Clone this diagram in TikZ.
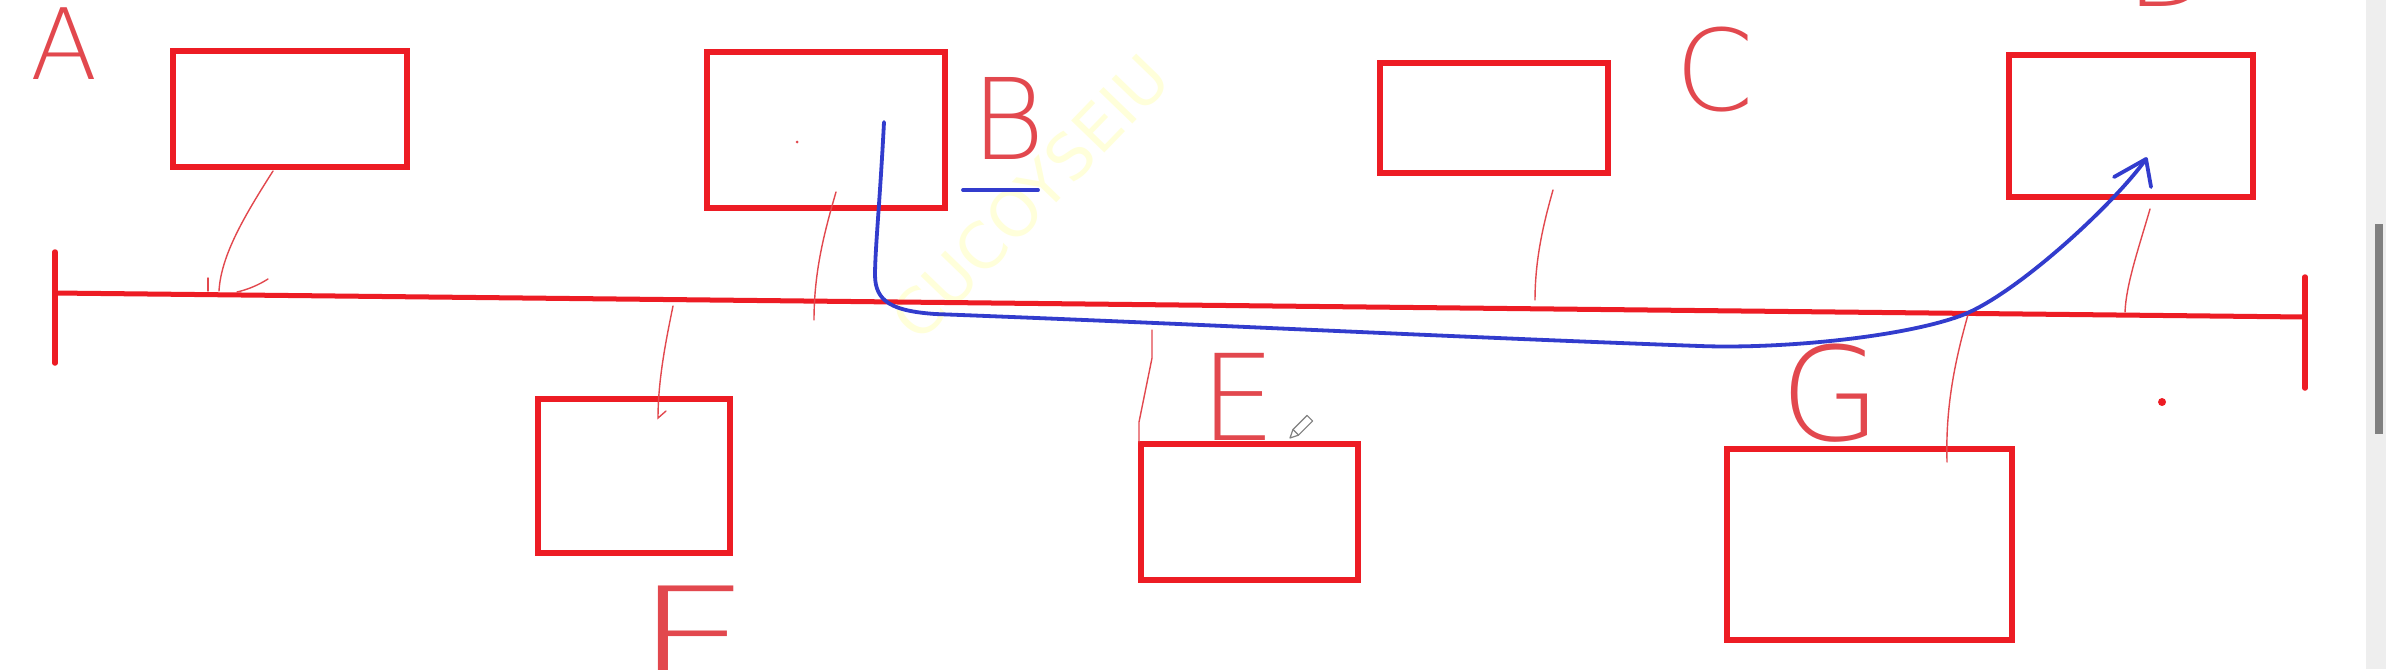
\documentclass[tikz,border=0pt]{standalone}
\usepackage{fontspec}
\IfFontExistsTF{DejaVu Sans ExtraLight}{\newfontfamily\hand{DejaVu Sans ExtraLight}}{\newfontfamily\hand{DejaVu Sans}}
\newfontfamily\wmfont{DejaVu Sans}
\definecolor{pred}{RGB}{237,28,36}
\definecolor{thinred}{RGB}{226,72,78}
\definecolor{pblue}{RGB}{50,60,205}
\definecolor{wmark}{RGB}{255,255,218}
\definecolor{sbbg}{RGB}{238,238,238}
\definecolor{sbthumb}{RGB}{128,128,128}
\tikzset{
  box/.style={draw=pred, line width=0.6mm, inner sep=0pt, minimum width=#1},
  hline/.style={draw=thinred, line width=0.14mm, line cap=round},
  axisline/.style={draw=pred, line width=0.5mm},
  endbar/.style={draw=pred, line width=0.55mm, line cap=round},
  blueline/.style={draw=pblue, line width=0.38mm, line cap=round, line join=round},
  letter/.style={text=thinred, inner sep=0pt, anchor=south west, font=\hand\fontsize{#1}{#1}\selectfont}
}
\begin{document}
\begin{tikzpicture}[x=0.01cm,y=-0.01cm]
\useasboundingbox (0,0) rectangle (2386,669);
\fill[white] (0,0) rectangle (2386,669);
% scrollbar
\fill[sbbg] (2366,0) rectangle (2386,669);
\fill[sbthumb] (2375,224) rectangle (2383,434);
% watermark
\node[text=wmark, font=\wmfont\fontsize{18}{18}\selectfont, rotate=46, inner sep=0pt] (wm) at (1030,197) {CUCOYSEIU};
% boxes
\node[box=2.34cm, minimum height=1.16cm] (b1) at (290,109) {};
\node[box=2.38cm, minimum height=1.56cm] (b2) at (826,130) {};
\node[box=2.28cm, minimum height=1.10cm] (b3) at (1494,118) {};
\node[box=2.44cm, minimum height=1.42cm] (b4) at (2131,126) {};
\node[box=1.92cm, minimum height=1.54cm] (b5) at (634,476) {};
\node[box=2.17cm, minimum height=1.36cm] (b6) at (1249.5,512) {};
\node[box=2.85cm, minimum height=1.91cm] (b7) at (1869.5,544.5) {};
% main axis
\coordinate (L) at (55,293);
\coordinate (R) at (2305,317);
\coordinate (Lt) at (55,252);
\coordinate (Lb) at (55,363);
\coordinate (Rt) at (2305,277);
\coordinate (Rb) at (2305,388);
\draw[axisline] (L) -- (R);
\draw[endbar] (Lt) -- (Lb);
\draw[endbar] (Rt) -- (Rb);
% thin connectors
\coordinate (c1a) at (273,171); \coordinate (c1b) at (219,291);
\draw[hline] (c1a) .. controls (245,215) and (221,255) .. (c1b);
\draw[hline] (208,278) -- (208,291);
\draw[hline] (237,292) .. controls (250,289) and (260,284) .. (268,279);
\coordinate (c2a) at (836,192); \coordinate (c2b) at (814,320);
\draw[hline] (c2a) .. controls (825,230) and (814,270) .. (c2b);
\coordinate (c3a) at (1553,190); \coordinate (c3b) at (1535,300);
\draw[hline] (c3a) .. controls (1543,225) and (1535,260) .. (c3b);
\coordinate (c4a) at (2150,209); \coordinate (c4b) at (2125,312);
\draw[hline] (c4a) .. controls (2138,250) and (2126,285) .. (c4b);
\coordinate (c5a) at (673,306); \coordinate (c5b) at (658,418);
\draw[hline] (c5a) .. controls (666,340) and (658,380) .. (c5b) -- (666,411);
\coordinate (c6a) at (1152,330); \coordinate (c6b) at (1139,442);
\draw[hline] (c6a) -- (1152,358) -- (1139,422) -- (c6b);
\coordinate (c7a) at (1969,311); \coordinate (c7b) at (1947,462);
\draw[hline] (c7a) .. controls (1958,350) and (1945,400) .. (c7b);
% letters
\node[letter=28] (lA) at (30,80) {A};
\node[letter=32] (lB) at (971,160) {B};
\node[letter=32] (lC) at (1675,113) {C};
\node[letter=32] (lD) at (2126,7) {D};
\node[letter=34] (lE) at (1200,441) {E};
\node[letter=40, xscale=1.45] (lF) at (632,689) {F};
\node[letter=37] (lG) at (1780,443) {G};
% blue underline under B
\coordinate (u1) at (963,190); \coordinate (u2) at (1038,190);
\draw[blueline] (u1) -- (u2);
% dots
\fill[pred] (2162,402) circle[radius=0.4mm];
\fill[thinred] (797,142) circle[radius=0.15mm];
% blue path
\coordinate (bs) at (884,122);
\coordinate (tip) at (2146,159);
\draw[blueline] (bs) .. controls (880,200) and (875,250) .. (875,275)
  .. controls (875,302) and (893,311) .. (935,314)
  .. controls (1200,324) and (1450,337) .. (1700,346)
  .. controls (1780,349) and (1900,337.6) .. (1960,316)
  .. controls (2015,296) and (2115,203) .. (tip);
\draw[blueline] (2114,177) -- (tip) -- (2151,187);
% pencil cursor
\draw[gray, line width=0.12mm, fill=white, line join=round] (1290,438) -- (1298.5,435.1) -- (1312.6,421.0) -- (1307.0,415.4) -- (1292.9,429.5) -- cycle;
\draw[gray, line width=0.12mm] (1298.5,435.1) -- (1292.9,429.5);
\end{tikzpicture}
\end{document}
